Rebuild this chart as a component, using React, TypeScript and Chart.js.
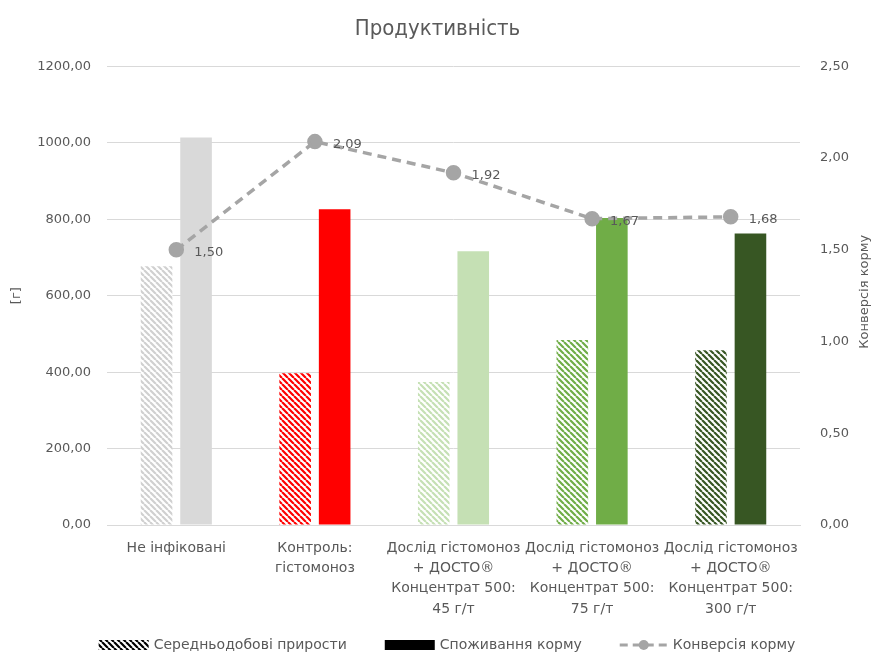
import React, { useEffect, useRef } from "react";
import { Chart, registerables } from "chart.js";

Chart.register(...registerables);

const categories: string[][] = [
  ["Не інфіковані"],
  ["Контроль:", "гістомоноз"],
  ["Дослід гістомоноз", "+ ДОСТО®", "Концентрат 500:", "45 г/т"],
  ["Дослід гістомоноз", "+ ДОСТО®", "Концентрат 500:", "75 г/т"],
  ["Дослід гістомоноз", "+ ДОСТО®", "Концентрат 500:", "300 г/т"],
];
const dailyGain = [677, 397, 374, 484, 457];
const feedIntake = [1014, 826, 716, 803, 763];
const feedConversion = [1.5, 2.09, 1.92, 1.67, 1.68];
const barColors = ["#D9D9D9", "#FF0000", "#C5E0B4", "#70AD47", "#375623"];
const hatchColors = ["#D0D0D0", "#FF0000", "#C5E0B4", "#70AD47", "#375623"];
const seriesNames = ["Середньодобові прирости", "Споживання корму", "Конверсія корму"];
const chartTitle = "Продуктивність";
const leftAxisTitle = "[г]";
const rightAxisTitle = "Конверсія корму";

const FONT = "'DejaVu Sans', sans-serif";
const TEXT = "#595959";
const LINE = "#A5A5A5";

function makeHatch(color: string): CanvasPattern {
  const size = 6;
  const c = document.createElement("canvas");
  c.width = size;
  c.height = size;
  const x = c.getContext("2d")!;
  x.fillStyle = "#ffffff";
  x.fillRect(0, 0, size, size);
  x.strokeStyle = color;
  x.lineWidth = 2.2;
  x.beginPath();
  for (const o of [-size, 0, size]) {
    x.moveTo(o, 0);
    x.lineTo(o + size, size);
  }
  x.stroke();
  return x.createPattern(c, "repeat")!;
}

const fmt = (v: number) => v.toFixed(2).replace(".", ",");

const extrasPlugin = {
  id: "extras",
  afterDatasetsDraw(chart: any) {
    const ctx = chart.ctx;
    const meta = chart.getDatasetMeta(0);
    ctx.save();
    ctx.font = `13px ${FONT}`;
    ctx.fillStyle = TEXT;
    ctx.textAlign = "left";
    ctx.textBaseline = "middle";
    meta.data.forEach((pt: any, i: number) => {
      ctx.fillText(fmt(feedConversion[i]), pt.x + 18, pt.y + 3);
    });
    ctx.restore();
  },
  afterDraw(chart: any) {
    const ctx = chart.ctx;
    const area = chart.chartArea;
    // right axis title
    ctx.save();
    ctx.font = `13px ${FONT}`;
    ctx.fillStyle = TEXT;
    ctx.textAlign = "center";
    ctx.textBaseline = "middle";
    ctx.translate(865, (area.top + area.bottom) / 2 - 4);
    ctx.rotate(-Math.PI / 2);
    ctx.fillText(rightAxisTitle, 0, 0);
    ctx.restore();

    // legend
    ctx.save();
    ctx.font = `14px ${FONT}`;
    ctx.textBaseline = "middle";
    ctx.textAlign = "left";
    const iconW = [50, 50, 48];
    const gapIcon = 5;
    const gapItem = 38;
    const widths = seriesNames.map((t, i) => iconW[i] + gapIcon + ctx.measureText(t).width);
    const total = widths.reduce((a, b) => a + b, 0) + gapItem * (seriesNames.length - 1);
    let x = 447 - total / 2;
    const y = 645;
    seriesNames.forEach((t, i) => {
      if (i === 0) {
        ctx.fillStyle = makeHatch("#000000");
        ctx.fillRect(x, y - 5, iconW[i], 10);
      } else if (i === 1) {
        ctx.fillStyle = "#000000";
        ctx.fillRect(x, y - 5, iconW[i], 10);
      } else {
        ctx.save();
        ctx.strokeStyle = LINE;
        ctx.lineWidth = 3;
        ctx.setLineDash([8, 5]);
        ctx.beginPath();
        ctx.moveTo(x, y);
        ctx.lineTo(x + iconW[i], y);
        ctx.stroke();
        ctx.setLineDash([]);
        ctx.fillStyle = LINE;
        ctx.beginPath();
        ctx.arc(x + iconW[i] / 2, y, 5, 0, Math.PI * 2);
        ctx.fill();
        ctx.restore();
      }
      ctx.fillStyle = TEXT;
      ctx.fillText(t, x + iconW[i] + gapIcon, y);
      x += widths[i] + gapItem;
    });
    ctx.restore();
  },
};

export default function App() {
  const ref = useRef<HTMLCanvasElement>(null);
  useEffect(() => {
    document.body.style.margin = "0";
    const chart = new Chart(ref.current!, {
      type: "bar",
      data: {
        labels: categories,
        datasets: [
          {
            type: "line",
            label: seriesNames[2],
            data: feedConversion,
            yAxisID: "y1",
            borderColor: LINE,
            backgroundColor: LINE,
            borderWidth: 3.5,
            borderDash: [9, 6],
            pointRadius: 6,
            pointBackgroundColor: LINE,
            pointBorderColor: LINE,
            order: 0,
          } as any,
          {
            type: "bar",
            label: seriesNames[0],
            data: dailyGain,
            yAxisID: "y",
            backgroundColor: hatchColors.map(makeHatch),
            categoryPercentage: 0.57,
            barPercentage: 0.8,
            order: 1,
          },
          {
            type: "bar",
            label: seriesNames[1],
            data: feedIntake,
            yAxisID: "y",
            backgroundColor: barColors,
            categoryPercentage: 0.57,
            barPercentage: 0.8,
            order: 1,
          },
        ],
      },
      options: {
        animation: false,
        responsive: true,
        maintainAspectRatio: false,
        layout: { padding: { left: 0, right: 0, top: 0, bottom: 35 } },
        plugins: {
          title: {
            display: true,
            text: chartTitle,
            color: TEXT,
            font: { family: "'Liberation Sans Narrow', 'DejaVu Sans Condensed', sans-serif", size: 22, weight: "normal" },
            padding: { top: 16, bottom: 24 },
          },
          tooltip: { enabled: false },
          legend: { display: false },
        },
        scales: {
          x: {
            grid: { display: false, drawTicks: false },
            border: { display: true, color: "#D9D9D9" },
            ticks: {
              color: TEXT,
              font: { family: FONT, size: 14, lineHeight: 1.45 },
              maxRotation: 0,
              autoSkip: false,
              padding: 13,
            },
            afterFit: (s: any) => {
              s.height = 95;
            },
          },
          y: {
            position: "left",
            min: 0,
            max: 1200,
            grid: { color: "#D9D9D9", drawTicks: false },
            border: { display: false },
            ticks: {
              stepSize: 200,
              color: TEXT,
              padding: 16,
              font: { family: FONT, size: 13 },
              callback: (v: any) => fmt(Number(v)),
            },
            title: {
              display: true,
              text: leftAxisTitle,
              color: TEXT,
              font: { family: FONT, size: 13 },
              padding: { top: 9, bottom: 0 },
            },
            afterFit: (s: any) => {
              s.width = 107;
            },
          },
          y1: {
            position: "right",
            min: 0,
            max: 2.5,
            grid: { display: false, drawTicks: false },
            border: { display: false },
            ticks: {
              stepSize: 0.5,
              color: TEXT,
              padding: 20,
              font: { family: FONT, size: 13 },
              callback: (v: any) => fmt(Number(v)),
            },
            afterFit: (s: any) => {
              s.width = 75;
            },
          },
        },
      },
      plugins: [extrasPlugin],
    });
    return () => chart.destroy();
  }, []);
  return (
    <div style={{ position: "fixed", left: 0, top: 0, width: 875, height: 655, background: "#fff" }}>
      <canvas ref={ref} />
    </div>
  );
}
